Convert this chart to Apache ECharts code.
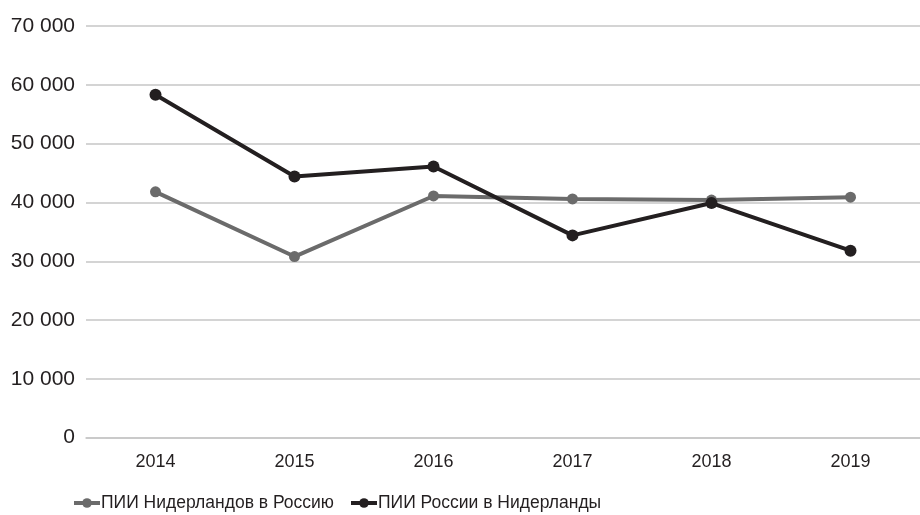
<!DOCTYPE html>
<html>
<head>
<meta charset="utf-8">
<script src="https://cdn.jsdelivr.net/npm/echarts@6/dist/echarts.min.js"></script>
<style>
  html, body { margin: 0; padding: 0; background: #fff; }
  #chart { width: 920px; height: 515px; }
</style>
</head>
<body>
<div id="chart"></div>
<script>
// Years on the category axis
const years = ['2014', '2015', '2016', '2017', '2018', '2019'];

// FDI flows, millions USD
const nlToRussia = [41800, 30800, 41100, 40600, 40400, 40900];
const russiaToNl = [58300, 44400, 46100, 34400, 39900, 31800];

const seriesNames = ['ПИИ Нидерландов в Россию', 'ПИИ России в Нидерланды'];
const seriesColors = ['#6b6b6b', '#231f20'];

const yTicks = { min: 0, max: 70000, interval: 10000 };

const chart = echarts.init(document.getElementById('chart'));

function fmt(v) {
  return String(v).replace(/\B(?=(\d{3})+(?!\d))/g, ' ');
}

chart.setOption({
  animation: false,
  backgroundColor: '#ffffff',
  grid: { left: 86, top: 26, width: 843, bottom: 77.3, containLabel: false },
  legend: {
    top: 494,
    left: 72,
    padding: 0,
    itemWidth: 26,
    itemHeight: 12,
    itemGap: 15,
    textStyle: {
      fontFamily: '"Liberation Sans", Arial, sans-serif',
      fontSize: 17.5,
      color: '#231f20',
      padding: [0, 0, 0, -4]
    },
    data: seriesNames.map((name, i) => ({
      name: name,
      lineStyle: { width: 4, color: seriesColors[i] },
      itemStyle: { color: seriesColors[i] }
    }))
  },
  xAxis: {
    type: 'category',
    data: years,
    boundaryGap: true,
    axisLine: { show: true, lineStyle: { color: '#c6c6c6', width: 1.5 } },
    axisTick: { show: false },
    axisLabel: {
      margin: 15,
      fontFamily: '"Liberation Sans", Arial, sans-serif',
      fontSize: 18,
      color: '#231f20'
    }
  },
  yAxis: {
    type: 'value',
    min: yTicks.min,
    max: yTicks.max,
    interval: yTicks.interval,
    axisLine: { show: false },
    axisTick: { show: false },
    splitLine: { lineStyle: { color: '#c6c6c6', width: 1.5 } },
    axisLabel: {
      margin: 11,
      fontFamily: '"Liberation Sans", Arial, sans-serif',
      fontSize: 21,
      color: '#231f20',
      formatter: fmt
    }
  },
  series: [
    {
      name: seriesNames[0],
      type: 'line',
      data: nlToRussia,
      symbol: 'circle',
      symbolSize: 11,
      color: seriesColors[0],
      lineStyle: { width: 4, color: seriesColors[0] },
      itemStyle: { color: seriesColors[0] }
    },
    {
      name: seriesNames[1],
      type: 'line',
      data: russiaToNl,
      symbol: 'circle',
      symbolSize: 12,
      color: seriesColors[1],
      lineStyle: { width: 4, color: seriesColors[1] },
      itemStyle: { color: seriesColors[1] }
    }
  ]
});
</script>
</body>
</html>
